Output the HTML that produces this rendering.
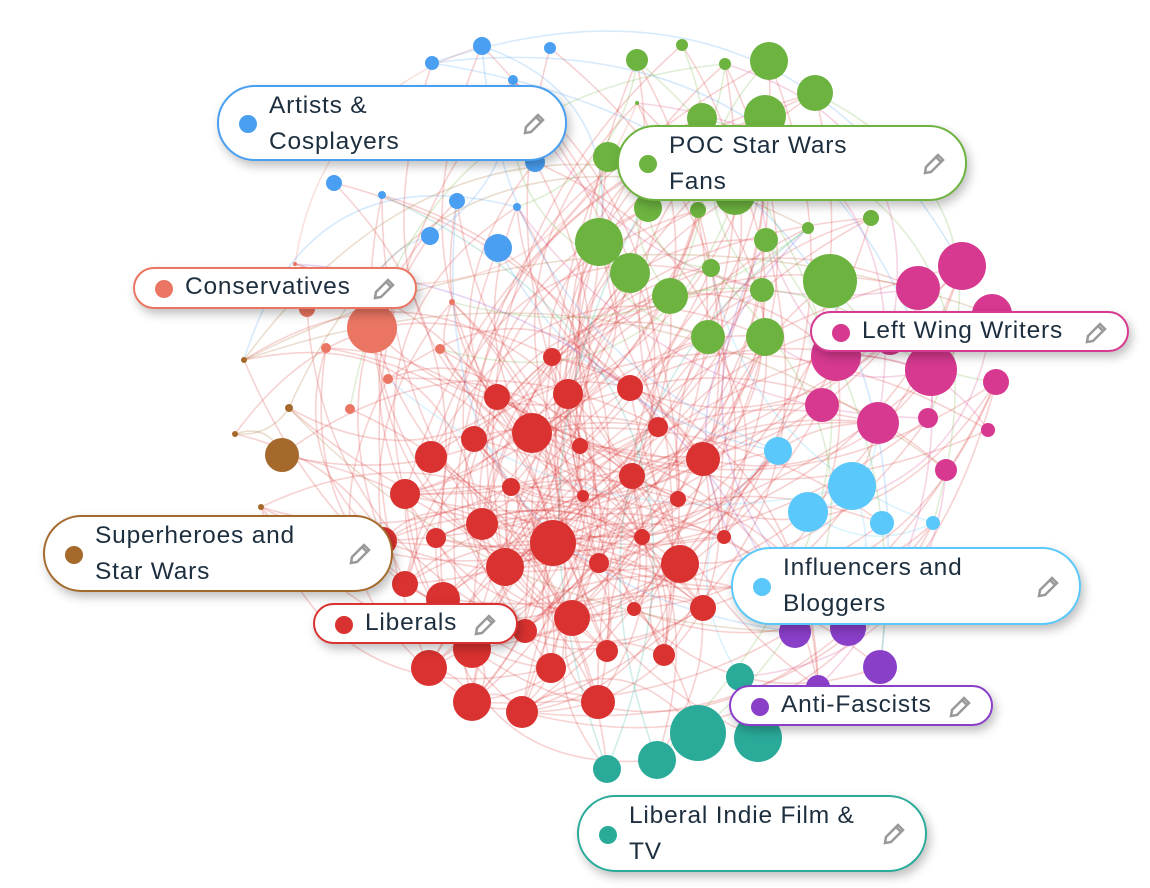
<!DOCTYPE html>
<html><head><meta charset="utf-8"><style>
html,body{margin:0;padding:0;background:#fff;width:1150px;height:888px;overflow:hidden;font-family:"Liberation Sans",sans-serif}
.lab{position:absolute;box-sizing:border-box;background:#fff;border:2px solid;border-radius:40px;box-shadow:3px 5px 10px rgba(0,0,0,.25);color:#1d2f3f;font-size:24.5px;letter-spacing:0.8px;line-height:36px}
.lab .d{position:absolute;left:20px;width:18px;height:18px;border-radius:50%}
.lab .t{position:absolute;left:50px}
.lab svg{position:absolute;right:18px}
</style></head><body>
<svg id="g" width="1150" height="888" style="position:absolute;left:0;top:0"><g id="e" fill="none" stroke-width="1.6"></g><g id="n"></g></svg>
<script>
var N={
'#4a9ff2':[[482,46,9],[550,48,6],[432,63,7],[513,80,5],[334,183,8],[457,201,8],[430,236,9],[498,248,14],[535,162,10],[517,207,4],[382,195,4]],
'#6db33f':[[637,60,11],[682,45,6],[725,64,6],[769,61,19],[815,93,18],[702,118,15],[765,116,21],[608,157,15],[648,208,14],[698,210,8],[735,195,20],[599,242,24],[630,273,20],[670,296,18],[711,268,9],[766,240,12],[808,228,6],[871,218,8],[830,281,27],[762,290,12],[708,337,17],[765,337,19],[637,103,2]],
'#d6398f':[[962,266,24],[918,288,22],[992,314,20],[836,356,25],[931,370,26],[996,382,13],[822,405,17],[878,423,21],[928,418,10],[988,430,7],[946,470,11],[890,340,15]],
'#5ac8fa':[[778,451,14],[852,486,24],[808,512,20],[882,523,12],[933,523,7]],
'#8a3fc9':[[795,632,16],[848,628,18],[880,667,17],[818,687,12]],
'#2aab9a':[[740,677,14],[698,733,28],[758,738,24],[657,760,19],[607,769,14]],
'#d93230':[[552,357,9],[497,397,13],[568,394,15],[630,388,13],[532,433,20],[474,439,13],[580,446,8],[658,427,10],[431,457,16],[703,459,17],[632,476,13],[511,487,9],[405,494,15],[583,496,6],[678,499,8],[482,524,16],[553,543,23],[436,538,10],[642,537,8],[724,537,7],[383,541,14],[505,567,19],[599,563,10],[680,564,19],[405,584,13],[443,599,17],[703,608,13],[572,618,18],[634,609,7],[472,649,19],[525,631,12],[607,651,11],[664,655,11],[429,668,18],[551,668,15],[472,702,19],[522,712,16],[598,702,17]],
'#ea7562':[[372,328,25],[307,309,8],[326,348,5],[350,409,5],[388,379,5],[440,349,5],[452,302,3],[295,264,2]],
'#a5692b':[[282,455,17],[244,360,3],[289,408,4],[235,434,3],[261,507,3]]};
var all=[],red=[],h='';
for(var c in N)N[c].forEach(function(p){var o=[p[0],p[1],c];all.push(o);if(c=='#d93230')red.push(o);h+='<circle cx="'+p[0]+'" cy="'+p[1]+'" r="'+p[2]+'" fill="'+c+'"/>';});
document.getElementById('n').innerHTML=h;
var s=7,r=function(){s=(s*9301+49297)%233280;return s/233280;},e='';
for(var i=0;i<330;i++){var a=r()<0.6?red[Math.floor(r()*red.length)]:all[Math.floor(r()*all.length)],b=all[Math.floor(r()*all.length)];if(a===b)continue;
var col=(a[2]=='#d93230'||b[2]=='#d93230')?'#d93230':a[2];
var mx=(a[0]+b[0])/2,my=(a[1]+b[1])/2,dx=b[0]-a[0],dy=b[1]-a[1],k=(0.2+r()*0.35)*(r()<0.5?-1:1);
e+='<path d="M'+a[0]+' '+a[1]+'Q'+(mx-dy*k)+' '+(my+dx*k)+' '+b[0]+' '+b[1]+'" stroke="'+col+'" stroke-opacity="0.22"/>';}
document.getElementById('e').innerHTML=e;
</script>
<div class="lab" style="left:217px;top:85px;width:350px;height:76px;border-color:#4a9ff2"><div class="d" style="background:#4a9ff2;top:28px"></div><div class="t" style="top:1px">Artists &amp;<br>Cosplayers</div><svg style="top:24px" width="26" height="26" viewBox="0 0 26 26"><path d="M4 22l1-6L17 4l5 5L10 21z M15 6l5 5" fill="none" stroke="#999" stroke-width="2.5"/></svg></div>
<div class="lab" style="left:617px;top:125px;width:350px;height:76px;border-color:#6db33f"><div class="d" style="background:#6db33f;top:28px"></div><div class="t" style="top:1px">POC Star Wars<br>Fans</div><svg style="top:24px" width="26" height="26" viewBox="0 0 26 26"><path d="M4 22l1-6L17 4l5 5L10 21z M15 6l5 5" fill="none" stroke="#999" stroke-width="2.5"/></svg></div>
<div class="lab" style="left:133px;top:267px;width:284px;height:42px;border-color:#ea7562"><div class="d" style="background:#ea7562;top:11px"></div><div class="t" style="top:0px">Conservatives</div><svg style="top:7px" width="26" height="26" viewBox="0 0 26 26"><path d="M4 22l1-6L17 4l5 5L10 21z M15 6l5 5" fill="none" stroke="#999" stroke-width="2.5"/></svg></div>
<div class="lab" style="left:810px;top:311px;width:319px;height:41px;border-color:#d6398f"><div class="d" style="background:#d6398f;top:11px"></div><div class="t" style="top:0px">Left Wing Writers</div><svg style="top:7px" width="26" height="26" viewBox="0 0 26 26"><path d="M4 22l1-6L17 4l5 5L10 21z M15 6l5 5" fill="none" stroke="#999" stroke-width="2.5"/></svg></div>
<div class="lab" style="left:43px;top:515px;width:350px;height:77px;border-color:#a5692b"><div class="d" style="background:#a5692b;top:29px"></div><div class="t" style="top:1px">Superheroes and<br>Star Wars</div><svg style="top:24px" width="26" height="26" viewBox="0 0 26 26"><path d="M4 22l1-6L17 4l5 5L10 21z M15 6l5 5" fill="none" stroke="#999" stroke-width="2.5"/></svg></div>
<div class="lab" style="left:313px;top:603px;width:205px;height:41px;border-color:#d93230"><div class="d" style="background:#d93230;top:11px"></div><div class="t" style="top:0px">Liberals</div><svg style="top:7px" width="26" height="26" viewBox="0 0 26 26"><path d="M4 22l1-6L17 4l5 5L10 21z M15 6l5 5" fill="none" stroke="#999" stroke-width="2.5"/></svg></div>
<div class="lab" style="left:731px;top:547px;width:350px;height:78px;border-color:#5ac8fa"><div class="d" style="background:#5ac8fa;top:29px"></div><div class="t" style="top:1px">Influencers and<br>Bloggers</div><svg style="top:25px" width="26" height="26" viewBox="0 0 26 26"><path d="M4 22l1-6L17 4l5 5L10 21z M15 6l5 5" fill="none" stroke="#999" stroke-width="2.5"/></svg></div>
<div class="lab" style="left:729px;top:685px;width:264px;height:41px;border-color:#8a3fc9"><div class="d" style="background:#8a3fc9;top:11px"></div><div class="t" style="top:0px">Anti-Fascists</div><svg style="top:7px" width="26" height="26" viewBox="0 0 26 26"><path d="M4 22l1-6L17 4l5 5L10 21z M15 6l5 5" fill="none" stroke="#999" stroke-width="2.5"/></svg></div>
<div class="lab" style="left:577px;top:795px;width:350px;height:77px;border-color:#2aab9a"><div class="d" style="background:#2aab9a;top:29px"></div><div class="t" style="top:1px">Liberal Indie Film &amp;<br>TV</div><svg style="top:24px" width="26" height="26" viewBox="0 0 26 26"><path d="M4 22l1-6L17 4l5 5L10 21z M15 6l5 5" fill="none" stroke="#999" stroke-width="2.5"/></svg></div>
</body></html>
